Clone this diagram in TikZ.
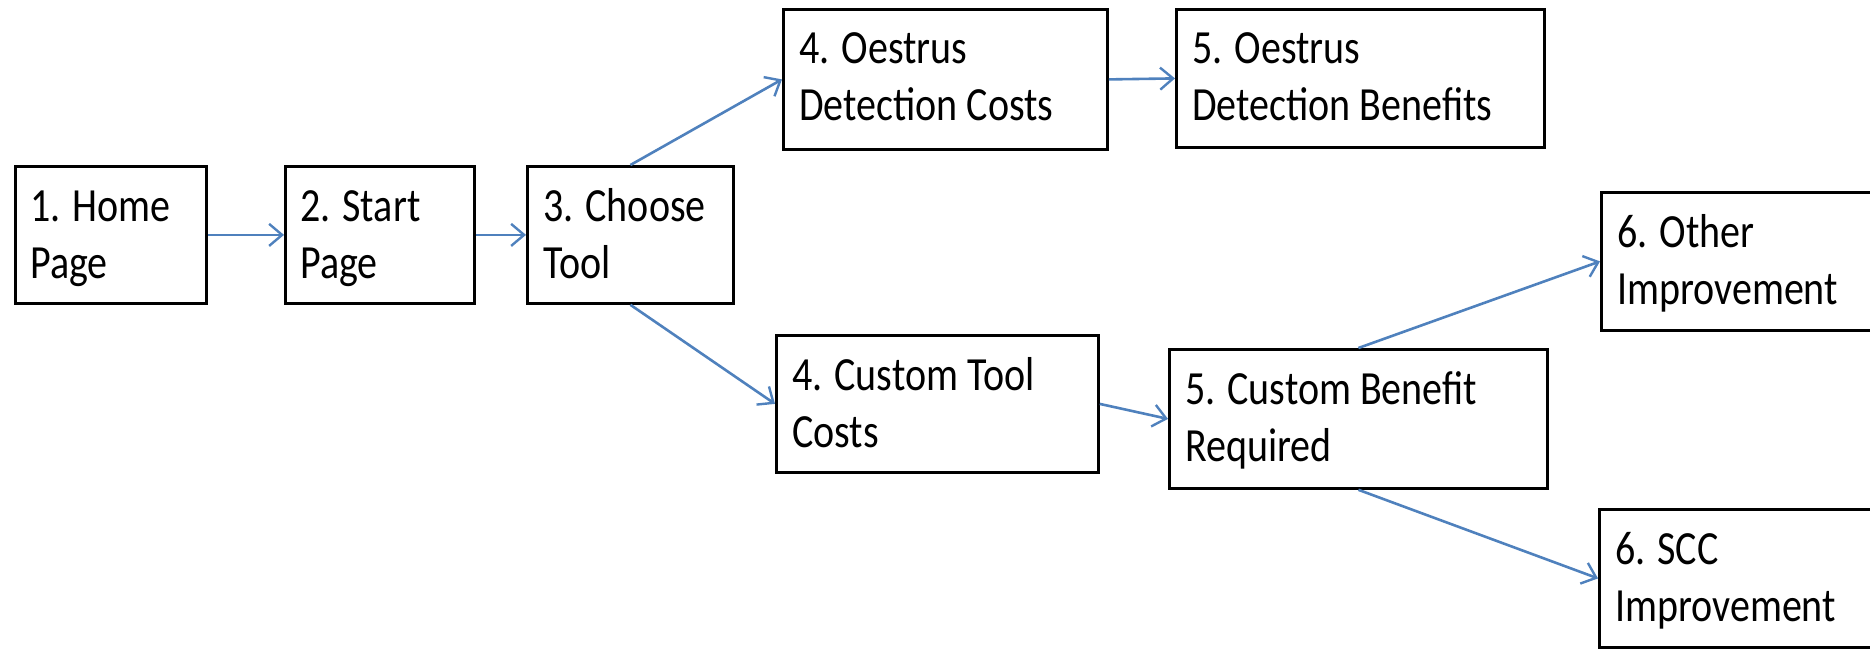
\documentclass[tikz,border=0pt]{standalone}
\usepackage{fontspec}
\setmainfont{Carlito}
\usetikzlibrary{arrows.meta}
\definecolor{arrowblue}{RGB}{79,129,189}
\newcommand{\twol}[1]{\scalebox{1}[1.19]{\begin{tabular}{@{}l@{}}#1\end{tabular}}}
\begin{document}
\begin{tikzpicture}[x=1pt,y=-1pt,
  box/.style={draw=black, line width=2.8pt, rectangle, inner sep=0pt, anchor=north west},
  txt/.style={anchor=north west, inner sep=0pt, font=\fontsize{40}{48}\selectfont},
  conn/.style={draw=arrowblue, line width=2.6pt, -{Straight Barb[length=13pt,width=22pt,line width=2.4pt]}}]
\clip (0,0) rectangle (1870,649);
% boxes
\node[box, minimum width=191pt, minimum height=137pt] (b1) at (14,165) {};
\node[box, minimum width=189pt, minimum height=137pt] (b2) at (284,165) {};
\node[box, minimum width=206pt, minimum height=137pt] (b3) at (526,165) {};
\node[box, minimum width=324pt, minimum height=140pt] (b4a) at (782,8) {};
\node[box, minimum width=368pt, minimum height=138pt] (b5a) at (1175,8) {};
\node[box, minimum width=322pt, minimum height=137pt] (b4b) at (775,334) {};
\node[box, minimum width=378pt, minimum height=139pt] (b5b) at (1168,348) {};
\node[box, minimum width=290pt, minimum height=138pt] (b6a) at (1600,191) {};
\node[box, minimum width=290pt, minimum height=138pt] (b6b) at (1598,508) {};
% texts
\node[txt] (t1) at ([xshift=16pt,yshift=-16pt]b1.north west) {\twol{1. Home\\Page}};
\node[txt] (t2) at ([xshift=16pt,yshift=-16pt]b2.north west) {\twol{2. Start\\Page}};
\node[txt] (t3) at ([xshift=17pt,yshift=-16pt]b3.north west) {\twol{3. Choose\\Tool}};
\node[txt] (t4a) at ([xshift=17pt,yshift=-15pt]b4a.north west) {\twol{4. Oestrus\\Detection Costs}};
\node[txt] (t5a) at ([xshift=17pt,yshift=-15pt]b5a.north west) {\twol{5. Oestrus\\Detection Benefits}};
\node[txt] (t4b) at ([xshift=17pt,yshift=-16pt]b4b.north west) {\twol{4. Custom Tool\\Costs}};
\node[txt] (t5b) at ([xshift=17pt,yshift=-16pt]b5b.north west) {\twol{5. Custom Benefit\\Required}};
\node[txt] (t6a) at ([xshift=17pt,yshift=-16pt]b6a.north west) {\twol{6. Other\\Improvement}};
\node[txt] (t6b) at ([xshift=17pt,yshift=-16pt]b6b.north west) {\twol{6. SCC\\Improvement}};
% connectors
\draw[conn] (b1.east) -- (b2.west);
\draw[conn] (b2.east) -- (b3.west);
\draw[conn] (b3.north) -- (b4a.west);
\draw[conn] (b3.south) -- (b4b.west);
\draw[conn] (b4a.east) -- (b5a.west);
\draw[conn] (b4b.east) -- (b5b.west);
\draw[conn] (b5b.north) -- (b6a.west);
\draw[conn] (b5b.south) -- (b6b.west);
\end{tikzpicture}
\end{document}
